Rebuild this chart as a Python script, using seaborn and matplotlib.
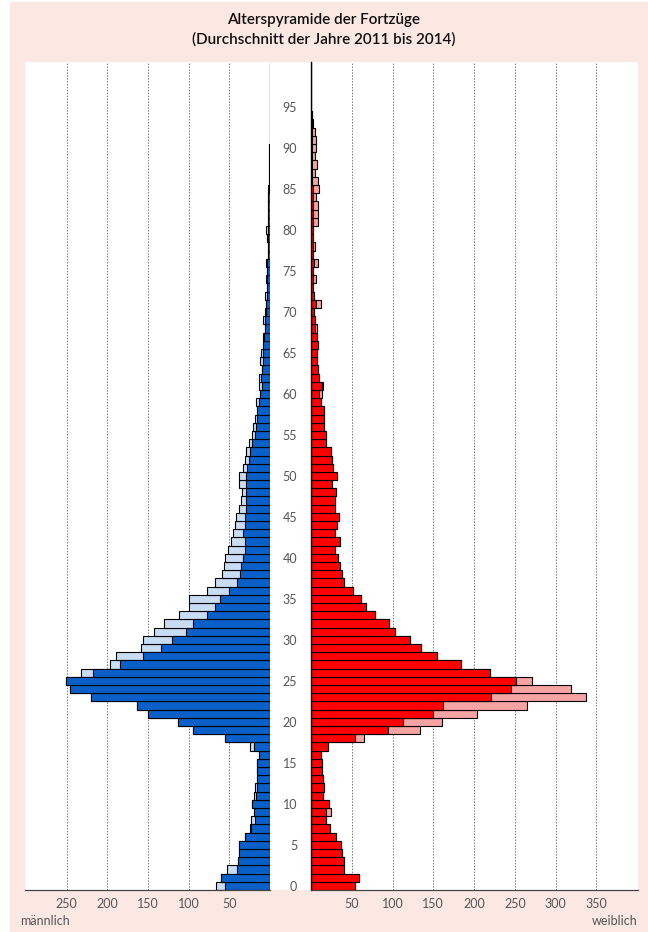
import numpy as np
import matplotlib
matplotlib.use("Agg")
import matplotlib.pyplot as plt
import matplotlib.transforms as mtransforms
from matplotlib.patches import Rectangle
import seaborn as sns

# --- Data: age 0..100, Fortzüge (average 2011-2014) ---
ages = np.arange(0, 101)

male_dark = [55, 60, 41, 39, 38, 38, 31, 23, 18, 20,
             22, 17, 16, 16, 16, 16, 14, 20, 55, 95,
             113, 150, 163, 220, 246, 251, 218, 184, 156, 134,
             121, 103, 95, 78, 67, 62, 50, 40, 37, 36,
             33, 31, 31, 33, 31, 31, 30, 30, 30, 30,
             29, 28, 26, 25, 22, 19, 17, 16, 16, 13,
             12, 10, 11, 10, 8, 8, 9, 7, 6, 6,
             5, 5, 4, 4, 4, 4, 4, 3, 3, 3,
             3, 2, 2, 2, 2, 1.5, 1, 1, 1, 0.8,
             0.7, 0.6, 0.5, 0.5, 0.4, 0.4, 0.3, 0.3, 0.3, 0.2,
             0.2]

male_light = [66, 60, 53, 39, 38, 38, 31, 24, 23, 20,
              22, 20, 19, 16, 16, 16, 14, 25, 55, 95,
              113, 150, 163, 220, 246, 251, 232, 197, 189, 158,
              156, 142, 130, 112, 99, 100, 77, 67, 59, 57,
              55, 52, 48, 46, 43, 42, 38, 36, 35, 38,
              38, 33, 31, 29, 26, 22, 21, 18, 16, 17,
              12, 14, 13, 10, 12, 11, 9, 9, 6, 8,
              6, 5, 6, 4, 5, 4, 5, 3, 3, 4,
              5, 3, 2, 2, 2, 2, 1.5, 1, 1, 0.8,
              0.7, 0.6, 0.5, 0.5, 0.4, 0.4, 0.3, 0.3, 0.3, 0.2,
              0.2]

female_dark = [54, 59, 40, 40, 38, 37, 31, 23, 18, 19,
               22, 15, 16, 15, 14, 14, 12, 21, 54, 94,
               113, 150, 162, 221, 245, 251, 219, 184, 155, 135,
               121, 103, 96, 79, 68, 61, 51, 40, 38, 36,
               33, 29, 36, 29, 32, 34, 29, 30, 31, 26,
               32, 27, 26, 24, 19, 19, 16, 16, 16, 12,
               10, 13, 10, 9, 7, 7, 8, 7, 5, 5,
               4, 6, 4, 3, 3, 3, 4, 3, 3, 2.5,
               2.5, 2.5, 2, 2, 2, 2, 1.5, 1.5, 1.5, 1,
               1, 1, 1, 0.8, 0.8, 0.5, 0.4, 0.3, 0.3, 0.2,
               0.2]

female_light = [54, 59, 40, 40, 38, 37, 31, 23, 18, 24.5,
                22, 15, 16, 15, 14, 14, 12, 21, 65, 134,
                161, 204, 265, 337, 319, 271, 219, 184, 155, 135,
                121, 103, 96, 79, 68, 61, 51, 40, 38, 36,
                33, 29, 36, 29, 32, 34, 29, 30, 31, 26,
                32, 27, 26, 24, 19, 19, 16, 16, 16, 12,
                13, 15, 10, 9, 7, 7, 9, 7, 7, 5,
                4, 12, 4, 3, 6, 3, 8, 3, 5, 2.5,
                2.5, 8, 8, 8, 6.5, 10, 8, 5, 7, 5,
                6, 6, 5, 3, 0.8, 0.5, 0.4, 0.3, 0.3, 0.2,
                0.2]

left_ticks = [50, 100, 150, 200, 250]
right_ticks = [50, 100, 150, 200, 250, 300, 350]
age_ticks = list(range(0, 100, 5))

# colours
blue = "#0b5fc8"
blue_light = "#c8dcf3"
red = "#ff0000"
red_light = "#f5a3a3"
bg = "#fbe8e2"
txt = "#555555"

sns.set_style("white")
plt.rcParams["font.family"] = ["Lato", "DejaVu Sans"]

W, H = 648, 932
fig = plt.figure(figsize=(W / 100, H / 100), dpi=100)
fig.patch.set_facecolor("white")


def fx(px):
    return px / W


def fy(py):
    return 1 - py / H


# pink frame and white plotting field
fig.patches.append(Rectangle((fx(10), 0), 1 - fx(10), fy(2), transform=fig.transFigure,
                             facecolor=bg, edgecolor="none", zorder=-2))
fig.patches.append(Rectangle((fx(25), fy(890)), fx(638) - fx(25), fy(62) - fy(890),
                             transform=fig.transFigure, facecolor="white",
                             edgecolor="none", zorder=-1))

bottom = fy(890)
height = fy(62) - fy(890)
ax_l = fig.add_axes([fx(25), bottom, fx(270) - fx(25), height])
ax_r = fig.add_axes([fx(311), bottom, fx(638) - fx(311), height])

ypos = ages + 0.5
bar_kw = dict(orient="h", native_scale=True, width=1, saturation=1,
              edgecolor="black", linewidth=0.8, errorbar=None)

# male
sns.barplot(x=male_light, y=ypos, color=blue_light, ax=ax_l, **bar_kw)
sns.barplot(x=male_dark, y=ypos, color=blue, ax=ax_l, **bar_kw)
# female
sns.barplot(x=female_light, y=ypos, color=red_light, ax=ax_r, **bar_kw)
sns.barplot(x=female_dark, y=ypos, color=red, ax=ax_r, **bar_kw)

ax_l.set_xlim(301, 0)
ax_r.set_xlim(0, 401)
for ax in (ax_l, ax_r):
    ax.set_ylim(0, 101)
    ax.set_facecolor("white")
    ax.set_xlabel("")
    ax.set_ylabel("")
    ax.set_axisbelow(True)
    ax.grid(axis="x", color="#777777", linestyle=(0, (1.5, 1.5)), linewidth=0.7)
    ax.grid(axis="y", visible=False)
    for s in ("top", "right"):
        ax.spines[s].set_visible(False)
    ax.spines["bottom"].set_color("#444444")
    ax.spines["bottom"].set_linewidth(0.9)
    ax.tick_params(axis="x", which="major", length=0, pad=6, labelsize=9, labelcolor=txt)
    ax.tick_params(axis="x", which="minor", length=4, color="#444444", direction="out")

ax_l.set_xticks(left_ticks)
ax_l.set_xticklabels([str(v) for v in left_ticks])
ax_l.set_xticks([0, 301], minor=True)
ax_r.set_xticks(right_ticks)
ax_r.set_xticklabels([str(v) for v in right_ticks])
ax_r.set_xticks([0, 401], minor=True)

ax_l.spines["left"].set_visible(False)
ax_l.set_yticks([])

ax_r.spines["left"].set_color("black")
ax_r.spines["left"].set_linewidth(1.0)
ax_r.set_yticks(age_ticks)
ax_r.set_yticklabels([str(a) for a in age_ticks])
ax_r.tick_params(axis="y", length=4, width=0.8, color="black", direction="out",
                 pad=6, labelsize=9, labelcolor=txt)
shift = mtransforms.ScaledTranslation(0, 3 / 72, fig.dpi_scale_trans)
for lab in ax_r.get_yticklabels():
    lab.set_transform(lab.get_transform() + shift)

fig.text(0.5, fy(20), "Alterspyramide der Fortzüge", ha="center", va="center",
         fontsize=11, color="#111111", fontweight="semibold")
fig.text(0.5, fy(39), "(Durchschnitt der Jahre 2011 bis 2014)", ha="center", va="center",
         fontsize=11, color="#111111", fontweight="semibold")
fig.text(fx(20), fy(921), "männlich", ha="left", va="center", fontsize=9, color=txt)
fig.text(fx(638), fy(921), "weiblich", ha="right", va="center", fontsize=9, color=txt)

fig.savefig("out.png", dpi=100, facecolor=fig.get_facecolor())
